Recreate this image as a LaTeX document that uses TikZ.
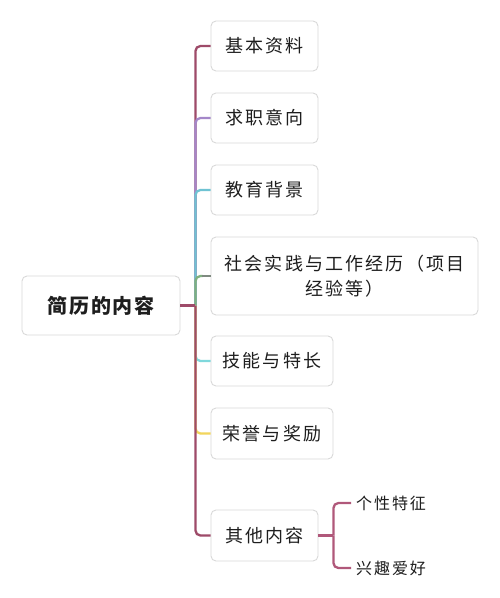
\documentclass[tikz,border=0pt]{standalone}
\usepackage{fontspec}
\newfontfamily\cjk[LetterSpace=12]{Noto Sans CJK SC}
\newfontfamily\cjkc[LetterSpace=10]{Noto Sans CJK SC}
\usetikzlibrary{calc}
\definecolor{maroon}{HTML}{9E4B69}
\definecolor{lav}{HTML}{A487C9}
\definecolor{cyanb}{HTML}{6FC3D3}
\definecolor{greenb}{HTML}{7FB07F}
\definecolor{stubgrey}{HTML}{7F8A80}
\definecolor{cyanl}{HTML}{7FD8DC}
\definecolor{yel}{HTML}{F2D55C}
\definecolor{subm}{HTML}{B0587A}
\definecolor{boxline}{HTML}{D9D9D9}
\definecolor{txt}{HTML}{1E1E1E}
\tikzset{
  box/.style={draw=boxline, line width=0.9pt, rounded corners=5pt, fill=white,
    inner sep=0pt, align=center, text=txt, font=\cjk\fontsize{18}{25}\selectfont},
  centbox/.style={box, font=\cjkc\fontsize{20}{25}\selectfont\bfseries},
  leaf/.style={inner sep=0pt, anchor=west, text=txt, font=\cjk\fontsize{16}{20}\selectfont},
  wire/.style={line width=2.3pt},
  conn/.style={wire, rounded corners=5pt},
}
\begin{document}
\begin{tikzpicture}[x=1pt,y=-1pt]
\useasboundingbox (0,0) rectangle (500,598);
\fill[white] (0,0) rectangle (500,598);
% nodes
\node[centbox, minimum width=158pt, minimum height=59pt] (c) at (101,305.5) {简历的内容};
\node[box, minimum width=107pt, minimum height=50pt] (n1) at (264.5,46) {基本资料};
\node[box, minimum width=107pt, minimum height=50pt] (n2) at (264.5,118) {求职意向};
\node[box, minimum width=107pt, minimum height=50pt] (n3) at (264.5,190) {教育背景};
\node[box, minimum width=267pt, minimum height=78pt] (n4) at (344.5,276) {社会实践与工作经历（项目\\经验等）};
\node[box, minimum width=122pt, minimum height=50pt] (n5) at (272,361) {技能与特长};
\node[box, minimum width=122pt, minimum height=51pt] (n6) at (272,433.5) {荣誉与奖励};
\node[box, minimum width=107pt, minimum height=51pt] (n7) at (264.5,535.5) {其他内容};
\node[leaf] (s1) at (356,503) {个性特征};
\node[leaf] (s2) at (356,568) {兴趣爱好};
% junctions
\coordinate (j) at ($(c.east)+(15,0)$);
\coordinate (k) at ($(n7.east)+(15,0)$);
% connectors
\draw[conn, maroon] (j) |- (n1.west);
\draw[conn, lav] (j) |- (n2.west);
\draw[conn, cyanb] (j) |- (n3.west);
\draw[conn, greenb] (j) |- ($(n4.west)+(-8,0)$);
\draw[wire, stubgrey] ($(n4.west)+(-9,0)$) -- (n4.west);
\draw[conn, cyanl] (j) |- (n5.west);
\draw[conn, yel] (j) |- (n6.west);
\draw[conn, maroon] (j) |- (n7.west);
\draw[wire, maroon] (c.east) -- (j);
\draw[wire, subm] (n7.east) -- (k);
\draw[conn, subm] (k) |- ($(s1.west)+(-5,0)$);
\draw[conn, subm] (k) |- ($(s2.west)+(-5,0)$);
\end{tikzpicture}
\end{document}
